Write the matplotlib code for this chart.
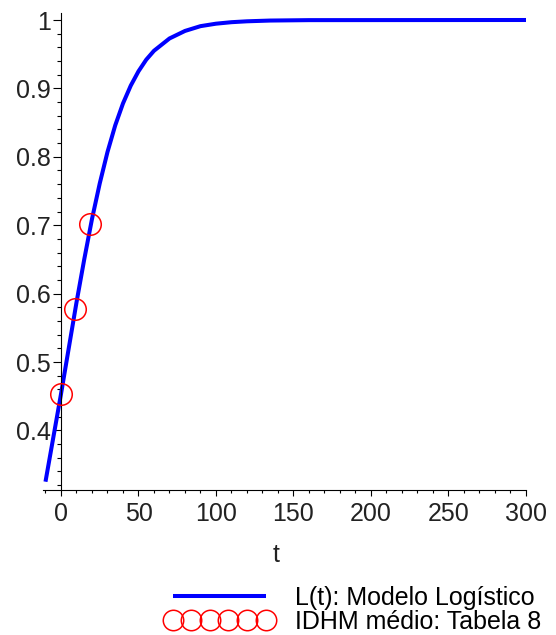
import numpy as np
import matplotlib
matplotlib.use("Agg")
import matplotlib.pyplot as plt
from matplotlib.ticker import MultipleLocator

# logistic model L(t), sampled along t
t_model = [-10, 0, 5, 10, 15, 20, 25, 30, 35, 40, 45, 50, 55, 60, 70, 80, 90,
           100, 110, 120, 135, 160, 300]
L_model = [0.325, 0.453, 0.520, 0.587, 0.650, 0.709, 0.761, 0.807, 0.846, 0.878,
           0.904, 0.925, 0.942, 0.955, 0.973, 0.984, 0.991, 0.9946, 0.9968,
           0.9981, 0.9992, 0.9998, 1.0]

# IDHM medio (Tabela 8)
t_idhm = [0, 9, 19]
idhm = [0.453, 0.577, 0.702]

plt.rcParams['font.family'] = ['Liberation Sans', 'DejaVu Sans']

fig = plt.figure(figsize=(5.56, 6.35), dpi=100)
ax = fig.add_axes([43 / 556, 1 - 490 / 635, (526 - 43) / 556, (490 - 13) / 635])

ax.plot(t_model, L_model, color=(0, 0, 1), lw=2.9, solid_capstyle='butt',
        label='L(t): Modelo Logístico', zorder=2)
ax.plot(t_idhm, idhm, ls='none', marker='o', ms=15.5, mfc='none', mec='red',
        mew=1.1, label='IDHM médio: Tabela 8', zorder=3)

ax.set_xlim(-11.6, 300)
ax.set_ylim(1 - 470 / 684, 1 + 7 / 684)

for s in ['top', 'right']:
    ax.spines[s].set_visible(False)
ax.spines['left'].set_position(('data', 0))
for s in ['left', 'bottom']:
    ax.spines[s].set_linewidth(0.8)

ax.xaxis.set_major_locator(MultipleLocator(50))
ax.xaxis.set_minor_locator(MultipleLocator(10))
ax.yaxis.set_major_locator(MultipleLocator(0.1))
ax.yaxis.set_minor_locator(MultipleLocator(0.02))
ax.set_xticks([0, 50, 100, 150, 200, 250, 300])
ax.set_xticklabels(['0', '50', '100', '150', '200', '250', '300'])
ax.set_yticks([0.4, 0.5, 0.6, 0.7, 0.8, 0.9, 1.0])
ax.set_yticklabels(['0.4', '0.5', '0.6', '0.7', '0.8', '0.9', '1'])

ax.tick_params(axis='x', which='major', length=4.3, width=0.8, pad=4,
               labelsize=18, colors='black', labelcolor='#222222')
ax.tick_params(axis='x', which='minor', length=2.2, width=0.8)
ax.tick_params(axis='y', which='major', length=5.5, width=0.8, pad=2,
               labelsize=18, labelcolor='#222222')
ax.tick_params(axis='y', which='minor', length=2.8, width=0.8)

fig.text(276 / 556, 1 - 555 / 635, 't', fontsize=18, ha='center', va='center',
         color='#222222')

fig.legend(loc='upper left', bbox_to_anchor=(165 / 556, 1 - 586 / 635),
           frameon=False, fontsize=18, numpoints=6, handlelength=4.33,
           handletextpad=0.86, labelspacing=0.0, borderpad=0,
           borderaxespad=0, markerscale=0.95)

fig.savefig('out.png', dpi=100)
